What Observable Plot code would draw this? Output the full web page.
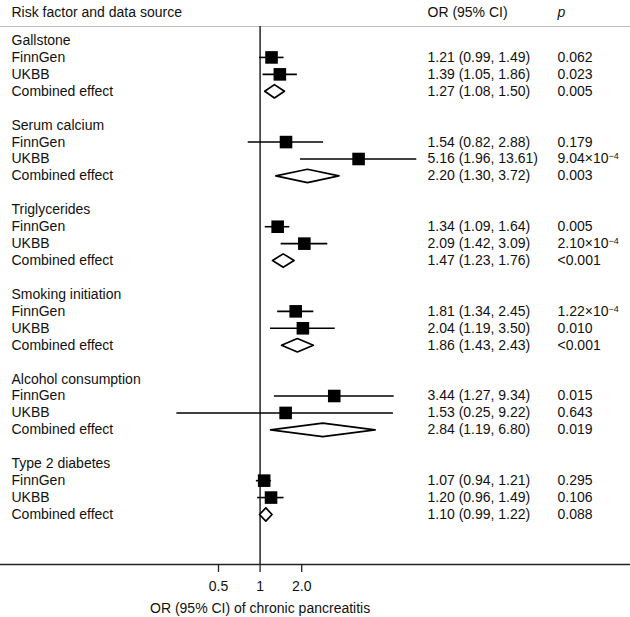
<!DOCTYPE html>
<html>
<head>
<meta charset="utf-8">
<script src="https://cdn.jsdelivr.net/npm/d3@7"></script>
<script src="https://cdn.jsdelivr.net/npm/@observablehq/plot@0.6"></script>
<style>
  html, body { margin: 0; padding: 0; background: #fff; }
  svg { display: block; }
</style>
</head>
<body>
<div id="chart"></div>
<script>
// ---- data ----
const factors = ["Gallstone", "Serum calcium", "Triglycerides", "Smoking initiation", "Alcohol consumption", "Type 2 diabetes"];
const sources = ["FinnGen", "UKBB", "Combined effect"];
const orValues = [[1.21, 1.39, 1.27], [1.54, 5.16, 2.20], [1.34, 2.09, 1.47], [1.81, 2.04, 1.86], [3.44, 1.53, 2.84], [1.07, 1.20, 1.10]];
const lowerValues = [[0.99, 1.05, 1.08], [0.82, 1.96, 1.30], [1.09, 1.42, 1.23], [1.34, 1.19, 1.43], [1.27, 0.25, 1.19], [0.94, 0.96, 0.99]];
const upperValues = [[1.49, 1.86, 1.50], [2.88, 13.61, 3.72], [1.64, 3.09, 1.76], [2.45, 3.50, 2.43], [9.34, 9.22, 6.80], [1.21, 1.49, 1.22]];
const pLabels = [["0.062", "0.023", "0.005"], ["0.179", "9.04×10-4", "0.003"], ["0.005", "2.10×10-4", "<0.001"], ["1.22×10-4", "0.010", "<0.001"], ["0.015", "0.643", "0.019"], ["0.295", "0.106", "0.088"]];
const columnHeaders = ["Risk factor and data source", "OR (95% CI)", "p"];
const axisTicks = [0.5, 1, 2];
const tickLabels = ["0.5", "1", "2.0"];
const axisTitle = "OR (95% CI) of chronic pancreatitis";
const nullOR = 1;

// ---- build tables ----
const rowsPerGroup = 5;
const labelRows = [];
const studies = [];
const combined = [];
factors.forEach((f, i) => {
  const base = i * rowsPerGroup;
  labelRows.push({row: base, label: f});
  sources.forEach((s, j) => {
    const r = {
      row: base + 1 + j, label: s,
      or: orValues[i][j], lo: lowerValues[i][j], hi: upperValues[i][j],
      p: pLabels[i][j]
    };
    r.ci = `${r.or.toFixed(2)} (${r.lo.toFixed(2)}, ${r.hi.toFixed(2)})`;
    labelRows.push(r);
    if (j < 2) studies.push(r); else combined.push(r);
  });
});
const itemRows = labelRows.filter(d => d.ci);

const yTop = 40, yBottom = 514, lastRow = 28;
const rowStep = (yBottom - yTop) / lastRow;
const halfH = 6.7 / rowStep;
const diamondPts = combined.flatMap(d => [
  {row: d.row, x: d.lo, y: d.row},
  {row: d.row, x: d.or, y: d.row - halfH},
  {row: d.row, x: d.hi, y: d.row},
  {row: d.row, x: d.or, y: d.row + halfH}
]);

const font = "'Liberation Sans', Arial, Helvetica, sans-serif";
const fs = 14;
const ink = "#111";

const chart = Plot.plot({
  width: 630,
  height: 617,
  marginTop: 26,
  marginBottom: 53,
  marginLeft: 0,
  marginRight: 0,
  style: {fontFamily: font, fontSize: "14px", color: ink, background: "#fff"},
  x: {type: "log", domain: [0.5, 2], range: [218, 301.2]},
  y: {domain: [0, lastRow], range: [yTop, yBottom], axis: null},
  marks: [
    Plot.frame({anchor: "top", stroke: "#bdbdbd", strokeWidth: 1.2}),
    Plot.frame({anchor: "bottom", stroke: "#222", strokeWidth: 1.5}),
    Plot.ruleX([nullOR], {stroke: "#333", strokeWidth: 1.6}),
    Plot.ruleY(studies, {y: "row", x1: "lo", x2: "hi", stroke: "#000", strokeWidth: 1.6}),
    Plot.dot(studies, {x: "or", y: "row", symbol: "square", r: 7.1, fill: "#000", stroke: null}),
    Plot.line(diamondPts, {x: "x", y: "y", z: "row", curve: "linear-closed", fill: "#fff", stroke: "#000", strokeWidth: 1.7}),
    Plot.text(labelRows, {y: "row", text: "label", frameAnchor: "left", dx: 11, textAnchor: "start", fontSize: fs, fill: ink}),
    Plot.text(itemRows, {y: "row", text: "ci", frameAnchor: "left", dx: 427, textAnchor: "start", fontSize: fs, fill: ink}),
    Plot.text(itemRows, {y: "row", text: "p", frameAnchor: "left", dx: 557, textAnchor: "start", fontSize: fs, fill: ink}),
    Plot.text([columnHeaders[0]], {frameAnchor: "top-left", dx: 11, dy: -19.5, textAnchor: "start", fontSize: fs, fill: ink}),
    Plot.text([columnHeaders[1]], {frameAnchor: "top-left", dx: 427, dy: -19.5, textAnchor: "start", fontSize: fs, fill: ink}),
    Plot.text([columnHeaders[2]], {frameAnchor: "top-left", dx: 557, dy: -19.5, textAnchor: "start", fontSize: fs, fill: ink, fontStyle: "italic"}),
    Plot.axisX({ticks: axisTicks, tickFormat: d => tickLabels[axisTicks.indexOf(d)], tickSize: 8, tickPadding: 9, fontSize: fs, label: null, stroke: "#222", strokeWidth: 1.3}),
    Plot.text([axisTitle], {x: () => nullOR, frameAnchor: "bottom", dy: 48, fontSize: fs, fill: ink})
  ]
});

// superscript exponents in p-values
d3.select(chart).selectAll("text").each(function () {
  if (this.querySelector("tspan")) return;
  const t = this.textContent;
  const m = t.match(/^(.*×10)(-\d+)$/);
  if (m) {
    this.textContent = m[1];
    d3.select(this).append("tspan").attr("dy", "-0.45em").attr("font-size", "9px").text(m[2].replace("-", "−"));
  }
});

document.getElementById("chart").appendChild(chart);
</script>
</body>
</html>
